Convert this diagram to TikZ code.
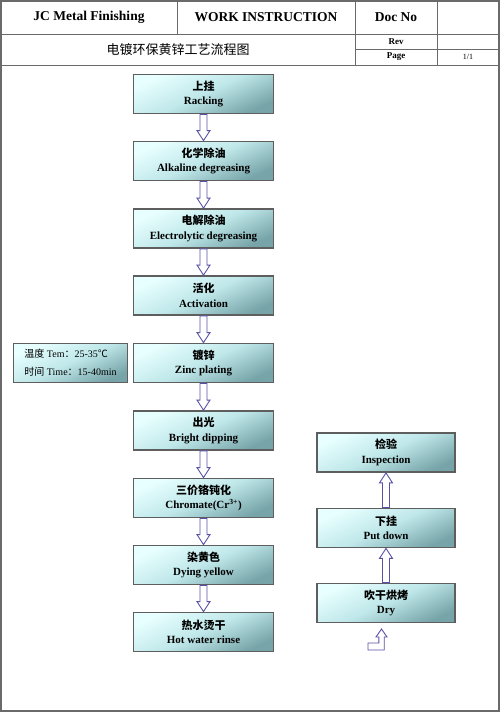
\documentclass[tikz,border=0pt]{standalone}
\usepackage{fontspec}
\setmainfont{Liberation Serif}
\newfontfamily\cjk{Noto Sans CJK SC}
\usetikzlibrary{calc}
\definecolor{boxtop}{HTML}{E8FFFF}
\definecolor{boxmid}{HTML}{BFE7E9}
\definecolor{boxbot}{HTML}{76A4A8}
\definecolor{boxline}{HTML}{5E5E5E}
\definecolor{arrline}{HTML}{5A52A6}
\definecolor{frame}{HTML}{6A6A6A}
\tikzset{
  stepbox/.style={draw=boxline, line width=1.8pt, top color=boxtop, bottom color=boxbot, middle color=boxmid,
    shading angle=25,
    minimum width=140pt, minimum height=39pt, inner sep=0pt, align=center,
    font=\fontsize{11}{14.5}\selectfont\bfseries},
  infobox/.style={stepbox, minimum width=114pt, align=left, font=\fontsize{10}{18}\selectfont},
  hollow/.style={draw=arrline, line width=0.9pt, fill=white, line join=miter},
  hdr/.style={font=\fontsize{13.5}{15}\selectfont\bfseries},
  hdrs/.style={font=\fontsize{9}{11}\selectfont\bfseries},
  gridline/.style={draw=frame, line width=1pt}
}
\newcommand\blockdown[2]{%
  \draw[hollow] let \p1=(#1), \p2=(#2) in
    (\x1-3.5pt,\y1) -- (\x1+3.5pt,\y1) -- (\x1+3.5pt,\y2+10pt) -- (\x1+6.5pt,\y2+10pt)
    -- (\x1,\y2) -- (\x1-6.5pt,\y2+10pt) -- (\x1-3.5pt,\y2+10pt) -- cycle;}
\newcommand\blockup[2]{%
  \draw[hollow] let \p1=(#1), \p2=(#2) in
    (\x1-3.5pt,\y1) -- (\x1+3.5pt,\y1) -- (\x1+3.5pt,\y2-10pt) -- (\x1+6.5pt,\y2-10pt)
    -- (\x1,\y2) -- (\x1-6.5pt,\y2-10pt) -- (\x1-3.5pt,\y2-10pt) -- cycle;}
\begin{document}
\begin{tikzpicture}[x=1pt,y=-1pt]
\useasboundingbox (0,0) rectangle (500,712);
% outer frame and header grid
\draw[draw=frame, line width=2pt] (1,1) rectangle (499,711);
\draw[gridline] (1,34) -- (499,34);
\draw[gridline] (1,65) -- (499,65);
\draw[gridline] (355,49) -- (499,49);
\draw[gridline] (177,1) -- (177,34);
\draw[gridline] (355,1) -- (355,65);
\draw[gridline] (437,1) -- (437,65);
\node[hdr] (h1) at (89,17.5) {JC Metal Finishing};
\node[hdr] (h2) at (266,17.5) {WORK INSTRUCTION};
\node[hdr] (h3) at (396,17.5) {Doc No};
\node[font=\fontsize{13}{15}\selectfont\cjk] (title) at (178,50) {电镀环保黄锌工艺流程图};
\node[hdrs] (rev) at (396,41.5) {Rev};
\node[hdrs] (page) at (396,57) {Page};
\node[font=\fontsize{8}{10}\selectfont] (pg) at (468,57) {1/1};
% main column
\node[stepbox] (s1) at (203.5,94) {{\cjk 上挂}\\Racking};
\node[stepbox] (s2) at (203.5,161) {{\cjk 化学除油}\\Alkaline degreasing};
\node[stepbox] (s3) at (203.5,228.5) {{\cjk 电解除油}\\Electrolytic degreasing};
\node[stepbox] (s4) at (203.5,295.5) {{\cjk 活化}\\Activation};
\node[stepbox] (s5) at (203.5,363) {{\cjk 镀锌}\\Zinc plating};
\node[stepbox] (s6) at (203.5,430.5) {{\cjk 出光}\\Bright dipping};
\node[stepbox] (s7) at (203.5,498) {{\cjk 三价铬钝化}\\Chromate(Cr\textsuperscript{3+})};
\node[stepbox] (s8) at (203.5,565) {{\cjk 染黄色}\\Dying yellow};
\node[stepbox] (s9) at (203.5,632) {{\cjk 热水烫干}\\Hot water rinse};
% info box
\node[infobox] (info) at (70.5,363) {{\cjk 温度} Tem{\cjk ：}25-35{\cjk ℃}\\{\cjk 时间} Time{\cjk ：}15-40min};
% right column
\node[stepbox, minimum width=138pt] (r1) at (386,452.5) {{\cjk 检验}\\Inspection};
\node[stepbox, minimum width=138pt] (r2) at (386,528) {{\cjk 下挂}\\Put down};
\node[stepbox, minimum width=138pt] (r3) at (386,603) {{\cjk 吹干烘烤}\\Dry};
% arrows
\blockdown{s1.south}{s2.north}
\blockdown{s2.south}{s3.north}
\blockdown{s3.south}{s4.north}
\blockdown{s4.south}{s5.north}
\blockdown{s5.south}{s6.north}
\blockdown{s6.south}{s7.north}
\blockdown{s7.south}{s8.north}
\blockdown{s8.south}{s9.north}
\blockup{r3.north}{r2.south}
\blockup{r2.north}{r1.south}
% bent arrow pointing up towards Dry
\coordinate (bstart) at (368,650);
\coordinate (btip) at (381.5,629);
\draw[hollow] let \p1=(bstart), \p2=(btip) in
  (\x1,\y1) -- (\x2+2.7pt,\y1) -- (\x2+2.7pt,\y2-8pt) -- (\x2+5.5pt,\y2-8pt) -- (\x2,\y2)
  -- (\x2-5.5pt,\y2-8pt) -- (\x2-2.7pt,\y2-8pt) -- (\x2-2.7pt,\y1+7pt) -- (\x1,\y1+7pt) -- cycle;
\end{tikzpicture}
\end{document}
